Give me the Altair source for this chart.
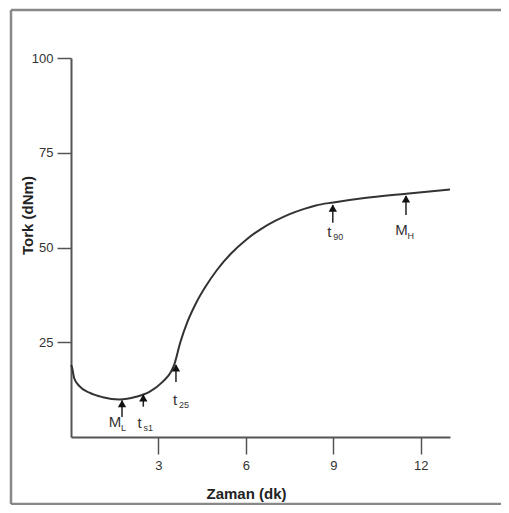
import altair as alt
import pandas as pd

# Rheometer curve: time (min) vs torque (dNm)
time_min = [0.0, 0.03, 0.11, 0.28, 0.63, 1.09, 1.66, 2.23, 2.69, 3.15, 3.43, 3.55, 3.75,
            4.0, 4.3, 4.6, 5.0, 5.5, 6.0, 6.5, 7.0, 7.5, 8.0, 8.4, 9.0, 10.0, 11.5, 13.0]
torque = [19.0, 18.5, 15.5, 13.5, 11.7, 10.5, 9.9, 10.6, 11.9, 14.6, 17.2, 19.3, 25.0,
          30.5, 35.5, 39.5, 44.0, 48.5, 52.0, 54.8, 57.0, 58.8, 60.2, 61.1, 61.9, 63.0, 64.2, 65.3]

# Annotation arrows
ann_x = [1.75, 2.48, 3.6, 8.98, 11.49]
ann_tip = [9.6, 11.1, 19.0, 61.2, 63.6]
ann_tail = [5.3, 8.0, 14.5, 56.5, 58.6]
ann_main = ["M", "t", "t", "t", "M"]
ann_sub = ["L", "s1", "25", "90", "H"]
ann_label_x = [1.51, 2.35, 3.57, 8.86, 11.34]
ann_label_y = [4.0, 3.7, 9.8, 54.1, 54.6]

x_ticks = [3, 6, 9, 12]
y_ticks = [25, 50, 75, 100]

LABEL_FONT = "Liberation Sans Narrow, Liberation Sans, Arial"
TITLE_FONT = "Liberation Sans, Arial"

curve_df = pd.DataFrame({"t": time_min, "tork": torque})
ann_df = pd.DataFrame({
    "x": ann_x, "tip": ann_tip, "tail": ann_tail,
    "main": ann_main, "sub": ann_sub, "lx": ann_label_x, "ly": ann_label_y,
})

xs = alt.Scale(domain=[0, 13], nice=False, zero=True)
ys = alt.Scale(domain=[0, 100], nice=False)

x_axis = alt.Axis(
    values=x_ticks, title="Zaman (dk)", grid=False,
    domainColor="#555", domainWidth=2, tickColor="#555", tickWidth=1.5, tickSize=17,
    labelPadding=5, labelFont=LABEL_FONT, labelFontSize=13, labelColor="#333",
    titleFont=TITLE_FONT, titleFontSize=15, titleFontWeight="bold", titleColor="#222",
    titleX=175, titleY=56, titleAlign="center", titleBaseline="middle",
)
y_axis = alt.Axis(
    values=y_ticks, title="Tork (dNm)", grid=False,
    domainColor="#555", domainWidth=2, tickColor="#555", tickWidth=1.5, tickSize=14,
    labelPadding=4, labelFont=LABEL_FONT, labelFontSize=13, labelColor="#333",
    titleFont=TITLE_FONT, titleFontSize=15, titleFontWeight="bold", titleColor="#222",
    titleX=-44, titleY=157, titleAngle=270, titleAlign="center", titleBaseline="middle",
)

curve = alt.Chart(curve_df).mark_line(
    interpolate="monotone", color="#333", strokeWidth=2
).encode(
    x=alt.X("t:Q", scale=xs, axis=x_axis),
    y=alt.Y("tork:Q", scale=ys, axis=y_axis),
)

shafts = alt.Chart(ann_df).mark_rule(color="#222", strokeWidth=1.5).encode(
    x=alt.X("x:Q", scale=xs), y=alt.Y("tip:Q", scale=ys), y2="tail:Q"
)
heads = alt.Chart(ann_df).mark_point(
    shape="triangle-up", filled=True, size=70, color="#111", opacity=1, yOffset=3
).encode(x=alt.X("x:Q", scale=xs), y=alt.Y("tip:Q", scale=ys))

mains = alt.Chart(ann_df).mark_text(
    font=LABEL_FONT, fontSize=15, color="#333", align="center", baseline="middle"
).encode(x=alt.X("lx:Q", scale=xs), y=alt.Y("ly:Q", scale=ys), text="main:N")
subs_m = alt.Chart(ann_df).transform_filter(alt.datum.main == "M").mark_text(
    font=LABEL_FONT, fontSize=9, color="#333", align="left", baseline="middle", dx=6, dy=6
).encode(x=alt.X("lx:Q", scale=xs), y=alt.Y("ly:Q", scale=ys), text="sub:N")
subs_t = alt.Chart(ann_df).transform_filter(alt.datum.main == "t").mark_text(
    font=LABEL_FONT, fontSize=9, color="#333", align="left", baseline="middle", dx=4, dy=5
).encode(x=alt.X("lx:Q", scale=xs), y=alt.Y("ly:Q", scale=ys), text="sub:N")

one = pd.DataFrame({"a": [0]})
frame_style = dict(color="#888", strokeWidth=2.5)
frame_left = alt.Chart(one).mark_rule(**frame_style).encode(
    x=alt.value(-60), y=alt.value(-48), y2=alt.value(446))
frame_top = alt.Chart(one).mark_rule(**frame_style).encode(
    x=alt.value(-60), x2=alt.value(450), y=alt.value(-48))
frame_bottom = alt.Chart(one).mark_rule(**frame_style).encode(
    x=alt.value(-60), x2=alt.value(450), y=alt.value(446))

chart = alt.layer(
    frame_left, frame_top, frame_bottom, curve, shafts, heads, mains, subs_m, subs_t
).properties(
    width=379, height=379,
    autosize=alt.AutoSizeParams(type="none"),
    padding={"left": 63, "top": 50, "right": 51, "bottom": 68},
).configure_view(stroke=None, strokeWidth=0)

chart.save("out.html", embed_options={"renderer": "svg", "actions": False})
